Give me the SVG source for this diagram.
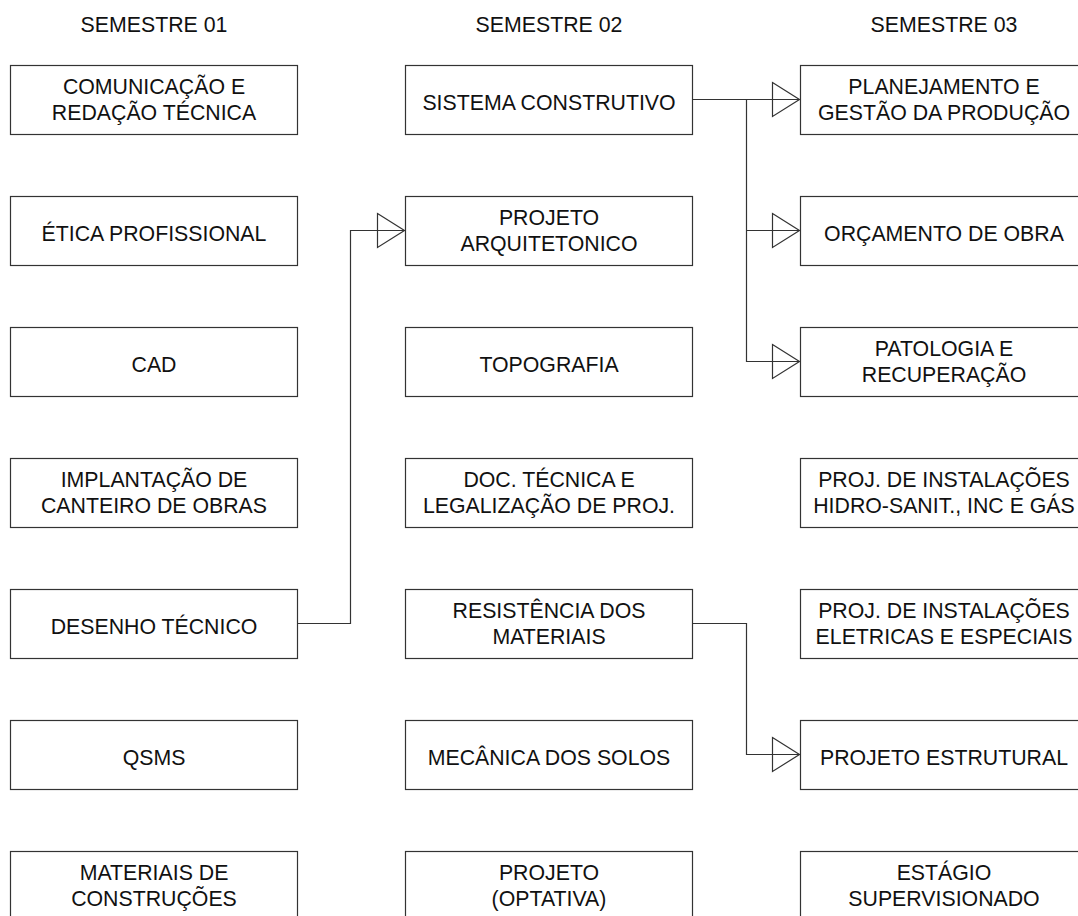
<svg xmlns="http://www.w3.org/2000/svg" width="1078" height="916" viewBox="0 0 1078 916">
<style>
rect.n{fill:#fff;stroke:#333;stroke-width:1.2}
text{font-family:"Liberation Sans",Arial,sans-serif;font-size:21.3px;fill:#111;text-anchor:middle}
.c path{fill:none;stroke:#333;stroke-width:1.2}
.c polygon{fill:none;stroke:#333;stroke-width:1.2}
</style>
<rect width="1078" height="916" fill="#fff"/>
<g id="headers">
<text x="154" y="31.5">SEMESTRE 01</text>
<text x="549" y="31.5">SEMESTRE 02</text>
<text x="944" y="31.5">SEMESTRE 03</text>
</g>
<!-- Column 1 -->
<g id="n-comunicacao"><rect class="n" x="10.5" y="65.5" width="287" height="69"/><text x="154" y="93.5">COMUNICAÇÃO E</text><text x="154" y="119.5">REDAÇÃO TÉCNICA</text></g>
<g id="n-etica"><rect class="n" x="10.5" y="196.5" width="287" height="69"/><text x="154" y="240.5">ÉTICA PROFISSIONAL</text></g>
<g id="n-cad"><rect class="n" x="10.5" y="327.5" width="287" height="69"/><text x="154" y="371.5">CAD</text></g>
<g id="n-implantacao"><rect class="n" x="10.5" y="458.5" width="287" height="69"/><text x="154" y="486.5">IMPLANTAÇÃO DE</text><text x="154" y="512.5">CANTEIRO DE OBRAS</text></g>
<g id="n-desenho"><rect class="n" x="10.5" y="589.5" width="287" height="69"/><text x="154" y="633.5">DESENHO TÉCNICO</text></g>
<g id="n-qsms"><rect class="n" x="10.5" y="720.5" width="287" height="69"/><text x="154" y="764.5">QSMS</text></g>
<g id="n-materiais"><rect class="n" x="10.5" y="851.5" width="287" height="69"/><text x="154" y="879.5">MATERIAIS DE</text><text x="154" y="905.5">CONSTRUÇÕES</text></g>
<!-- Column 2 -->
<g id="n-sistema"><rect class="n" x="405.5" y="65.5" width="287" height="69"/><text x="549" y="109.5">SISTEMA CONSTRUTIVO</text></g>
<g id="n-arquitetonico"><rect class="n" x="405.5" y="196.5" width="287" height="69"/><text x="549" y="224.5">PROJETO</text><text x="549" y="250.5">ARQUITETONICO</text></g>
<g id="n-topografia"><rect class="n" x="405.5" y="327.5" width="287" height="69"/><text x="549" y="371.5">TOPOGRAFIA</text></g>
<g id="n-doc"><rect class="n" x="405.5" y="458.5" width="287" height="69"/><text x="549" y="486.5">DOC. TÉCNICA E</text><text x="549" y="512.5">LEGALIZAÇÃO DE PROJ.</text></g>
<g id="n-resistencia"><rect class="n" x="405.5" y="589.5" width="287" height="69"/><text x="549" y="617.5">RESISTÊNCIA DOS</text><text x="549" y="643.5">MATERIAIS</text></g>
<g id="n-mecanica"><rect class="n" x="405.5" y="720.5" width="287" height="69"/><text x="549" y="764.5">MECÂNICA DOS SOLOS</text></g>
<g id="n-optativa"><rect class="n" x="405.5" y="851.5" width="287" height="69"/><text x="549" y="879.5">PROJETO</text><text x="549" y="905.5">(OPTATIVA)</text></g>
<!-- Column 3 -->
<g id="n-planejamento"><rect class="n" x="800.5" y="65.5" width="287" height="69"/><text x="944" y="93.5">PLANEJAMENTO E</text><text x="944" y="119.5">GESTÃO DA PRODUÇÃO</text></g>
<g id="n-orcamento"><rect class="n" x="800.5" y="196.5" width="287" height="69"/><text x="944" y="240.5">ORÇAMENTO DE OBRA</text></g>
<g id="n-patologia"><rect class="n" x="800.5" y="327.5" width="287" height="69"/><text x="944" y="355.5">PATOLOGIA E</text><text x="944" y="381.5">RECUPERAÇÃO</text></g>
<g id="n-hidro"><rect class="n" x="800.5" y="458.5" width="287" height="69"/><text x="944" y="486.5">PROJ. DE INSTALAÇÕES</text><text x="944" y="512.5">HIDRO-SANIT., INC E GÁS</text></g>
<g id="n-eletricas"><rect class="n" x="800.5" y="589.5" width="287" height="69"/><text x="944" y="617.5">PROJ. DE INSTALAÇÕES</text><text x="944" y="643.5">ELETRICAS E ESPECIAIS</text></g>
<g id="n-estrutural"><rect class="n" x="800.5" y="720.5" width="287" height="69"/><text x="944" y="764.5">PROJETO ESTRUTURAL</text></g>
<g id="n-estagio"><rect class="n" x="800.5" y="851.5" width="287" height="69"/><text x="944" y="879.5">ESTÁGIO</text><text x="944" y="905.5">SUPERVISIONADO</text></g>
<!-- Connectors -->
<g id="connectors" class="c">
<path d="M692.5 99.5 H800"/>
<path d="M746.5 99.5 V361.5 H800"/>
<path d="M746.5 230.5 H800"/>
<polygon points="772.5,82.5 799.5,99.5 772.5,116.5"/>
<polygon points="772.5,213.5 799.5,230.5 772.5,247.5"/>
<polygon points="772.5,344.5 799.5,361.5 772.5,378.5"/>
<path d="M297.5 623.5 H350.5 V230.5 H405"/>
<polygon points="377.5,213.5 404.5,230.5 377.5,247.5"/>
<path d="M692.5 623.5 H746.5 V754.5 H800"/>
<polygon points="772.5,737.5 799.5,754.5 772.5,771.5"/>
</g>
</svg>
